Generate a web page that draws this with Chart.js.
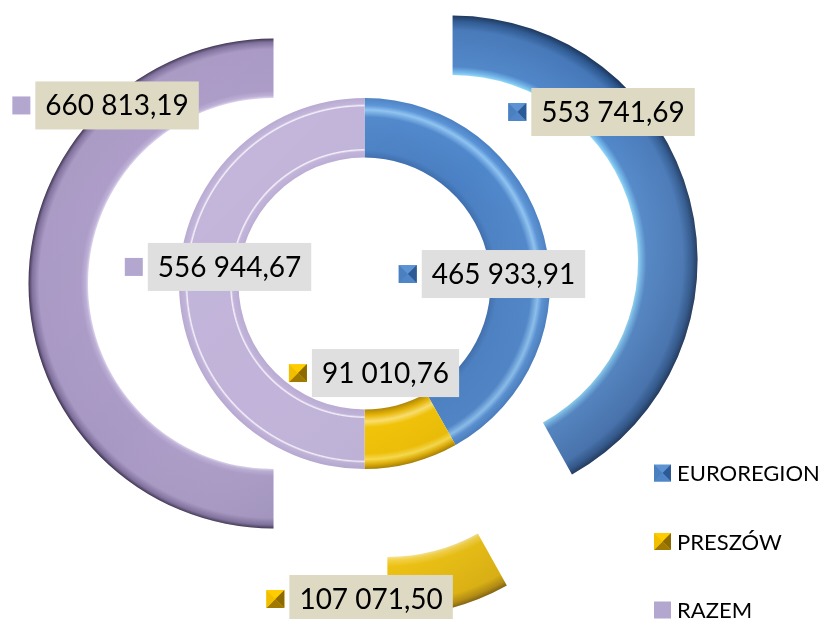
<!DOCTYPE html>
<html>
<head>
<meta charset="utf-8">
<script src="https://cdn.jsdelivr.net/npm/chart.js@4.4.1/dist/chart.umd.min.js"></script>
<style>
  html, body { margin: 0; padding: 0; background: #fff; }
</style>
</head>
<body>
<canvas id="chart" width="825" height="619"></canvas>
<script>
// data
const categories = ["EUROREGION", "PRESZÓW", "RAZEM"];
const outerValues = [553741.69, 107071.50, 660813.19];
const innerValues = [465933.91, 91010.76, 556944.67];

// look
const baseColors = ["#4a7fc1", "#f5c400", "#ad9dc8"];
const EXPLODE = 91;
const FONT = "Lato, 'Open Sans', sans-serif";

// radial ramps, inner edge -> outer edge
const outerRamps = [
  [[0, "#8fd8f6"], [0.05, "#72b6ea"], [0.14, "#4f86c8"], [0.75, "#4577b8"], [0.9, "#2d5890"], [1, "#1a3459"]],
  [[0, "#ffe98a"], [0.05, "#ffd83a"], [0.16, "#f7c600"], [0.78, "#f2bf00"], [0.92, "#c49400"], [1, "#8a6400"]],
  [[0, "#ddd4ec"], [0.04, "#bcaed6"], [0.12, "#aa9ac6"], [0.82, "#a797c3"], [0.94, "#7c6c99"], [1, "#3a2f4d"]]
];
const innerRamps = [
  [[0, "#3e6eae"], [0.12, "#4a80c3"], [0.68, "#4f87cb"], [0.8, "#8ec3f1"], [0.88, "#5a93d6"], [1, "#4a80c3"]],
  [[0, "#b08600"], [0.1, "#eab600"], [0.2, "#ffe26a"], [0.3, "#f6c500"], [0.74, "#f4c200"], [0.84, "#ffdf48"], [0.92, "#e5b100"], [1, "#a98000"]],
  [[0, "#b9abd3"], [0.1, "#c1b3d9"], [0.13, "#f6f2fb"], [0.15, "#c1b3d9"], [0.85, "#c1b3d9"], [0.87, "#f6f2fb"], [0.9, "#c1b3d9"], [1, "#b6a8d0"]]
];

// label placement: [angle clockwise from top in degrees, distance from the slice centre]
const outerSpots = [[47.2, 218.7], [184.1, 228], [318.7, 237]];
const innerSpots = [[86.1, 139.3], [166.8, 92], [277, 136]];
const outerBoxColor = "#ddd9c3";
const innerBoxColor = "#dfdfdf";

// legend key faces: top, right, bottom, left
const keyFaces = [
  ["#5d92d3", "#2d5a94", "#5086c8", "#4a7fc0"],
  ["#ffcc00", "#8c6a00", "#a07a00", "#f2bf00"],
  ["#b3a6cf", "#b3a6cf", "#b3a6cf", "#b3a6cf"]
];
const legendX = 654;
const legendRows = [473, 541.5, 610];

function fmt(v) {
  const parts = v.toFixed(2).split(".");
  return parts[0].replace(/\B(?=(\d{3})+(?!\d))/g, " ") + "," + parts[1];
}

function shiftOf(datasetIndex, arc) {
  if (datasetIndex !== 0) return { x: 0, y: 0 };
  const mid = (arc.startAngle + arc.endAngle) / 2;
  return { x: Math.cos(mid) * EXPLODE, y: Math.sin(mid) * EXPLODE };
}

function drawKey(ctx, i, x, y, s) {
  const faces = keyFaces[i];
  ctx.fillStyle = faces[0];
  ctx.fillRect(x, y, s, s);
  if (faces.every((f) => f === faces[0])) return;
  const cx = x + s / 2;
  const cy = y + s / 2;
  const pts = [[x, y], [x + s, y], [x + s, y + s], [x, y + s]];
  for (let k = 1; k < 4; k++) {
    ctx.beginPath();
    ctx.moveTo(pts[k][0], pts[k][1]);
    ctx.lineTo(pts[(k + 1) % 4][0], pts[(k + 1) % 4][1]);
    ctx.lineTo(cx, cy);
    ctx.closePath();
    ctx.fillStyle = faces[k];
    ctx.fill();
  }
}

const bevelPlugin = {
  id: "bevel",
  beforeDatasetDraw(chart, args) {
    const ctx = chart.ctx;
    const ramps = args.index === 0 ? outerRamps : innerRamps;
    args.meta.data.forEach((arc, i) => {
      const s = shiftOf(args.index, arc);
      const g = ctx.createRadialGradient(arc.x, arc.y, arc.innerRadius, arc.x, arc.y, arc.outerRadius);
      ramps[i].forEach((stop) => g.addColorStop(stop[0], stop[1]));
      ctx.save();
      ctx.translate(s.x, s.y);
      arc.options = Object.assign({}, arc.options, { backgroundColor: g });
      arc.draw(ctx);
      // light from the top left
      const r = arc.outerRadius;
      const lin = ctx.createLinearGradient(arc.x - r, arc.y - r, arc.x + r, arc.y + r);
      const a = args.index === 0 ? 0.28 : 0.12;
      lin.addColorStop(0, "rgba(255,255,255,0.06)");
      lin.addColorStop(0.5, "rgba(255,255,255,0)");
      lin.addColorStop(1, "rgba(0,10,40," + a + ")");
      arc.options = Object.assign({}, arc.options, { backgroundColor: lin });
      arc.draw(ctx);
      ctx.restore();
    });
    return false;
  }
};

const labelPlugin = {
  id: "valueBoxes",
  afterDatasetsDraw(chart) {
    const ctx = chart.ctx;
    ctx.save();
    chart.data.datasets.forEach((ds, di) => {
      const meta = chart.getDatasetMeta(di);
      const spots = di === 0 ? outerSpots : innerSpots;
      meta.data.forEach((arc, i) => {
        const s = shiftOf(di, arc);
        const ang = spots[i][0] * Math.PI / 180;
        const cx = arc.x + s.x + Math.sin(ang) * spots[i][1];
        const cy = arc.y + s.y - Math.cos(ang) * spots[i][1];
        const text = fmt(ds.data[i]);
        ctx.font = "28px " + FONT;
        const w = ctx.measureText(text).width + 20;
        const h = 48;
        ctx.fillStyle = di === 0 ? outerBoxColor : innerBoxColor;
        ctx.fillRect(cx - w / 2, cy - h / 2, w, h);
        drawKey(ctx, i, cx - w / 2 - 23, cy - 9, 18);
        ctx.fillStyle = "#000";
        ctx.textAlign = "center";
        ctx.textBaseline = "middle";
        ctx.fillText(text, cx, cy + 1);
      });
    });
    ctx.restore();
  }
};

const legendPlugin = {
  id: "sideLegend",
  afterDraw(chart) {
    const ctx = chart.ctx;
    ctx.save();
    ctx.font = "22px " + FONT;
    ctx.textAlign = "left";
    ctx.textBaseline = "middle";
    chart.data.labels.forEach((label, i) => {
      drawKey(ctx, i, legendX, legendRows[i] - 8.5, 17);
      ctx.fillStyle = "#000";
      ctx.fillText(label, legendX + 23, legendRows[i] + 1);
    });
    ctx.restore();
  }
};

new Chart(document.getElementById("chart"), {
  type: "doughnut",
  data: {
    labels: categories,
    datasets: [
      { label: "2", data: outerValues, backgroundColor: baseColors, borderWidth: 0, weight: 1 },
      { label: "1", data: innerValues, backgroundColor: baseColors, borderWidth: 0, weight: 1 }
    ]
  },
  options: {
    responsive: false,
    animation: false,
    events: [],
    radius: 245,
    cutout: "51.43%",
    layout: { padding: { left: 0, top: 0, right: 96, bottom: 52 } },
    plugins: {
      legend: { display: false },
      tooltip: { enabled: false }
    }
  },
  plugins: [bevelPlugin, labelPlugin, legendPlugin]
});
</script>
</body>
</html>
